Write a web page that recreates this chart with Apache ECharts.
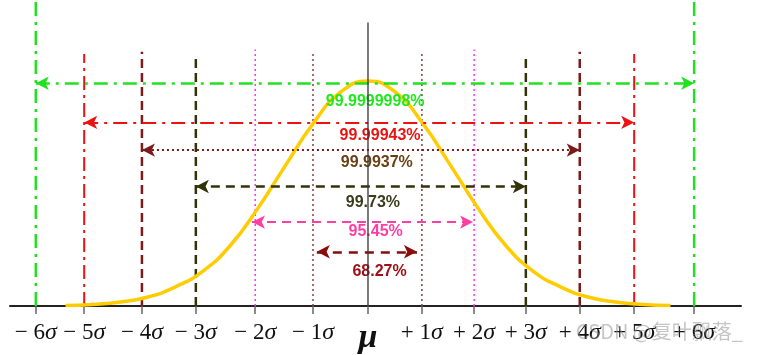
<!DOCTYPE html>
<html><head><meta charset="utf-8">
<script src="https://cdn.jsdelivr.net/npm/echarts@6/dist/echarts.min.js"></script>
<style>html,body{margin:0;padding:0;background:#fff}#c{width:758px;height:355px}</style>
</head><body><div id="c"></div>
<script>
// Sigma line positions on the axis, from -6σ to +6σ
const sigmaPos = [-6.04, -5.16, -4.11, -3.13, -2.05, -1.0, 0, 0.98, 1.93, 2.87, 3.85, 4.84, 5.93];
const tickLabels = ['− 6σ', '− 5σ', '− 4σ', '− 3σ', '− 2σ', '− 1σ', 'μ', '+ 1σ', '+ 2σ', '+ 3σ', '+ 4σ', '+ 5σ', '+ 6σ'];
// vertical line tops for |k| = 1..6, and centre line
const lineTops = [1.13, 1.14, 1.12, 1.13, 1.12, 1.36];
const centreTop = 1.26;
// normal curve (read)
const curveX = [-5.5, -5, -4.5, -4, -3.5, -3, -2.5, -2, -1.5, -1, -0.5, 0, 0.5, 1, 1.5, 2, 2.5, 3, 3.5, 4, 4.5, 5, 5.5];
const curveY = [0.002, 0.007, 0.018, 0.04, 0.085, 0.155, 0.27, 0.435, 0.625, 0.81, 0.95, 1.0, 0.95, 0.81, 0.625, 0.435, 0.27, 0.155, 0.085, 0.04, 0.018, 0.007, 0.002];
// range arrows: 6σ,5σ,4σ,3σ,2σ,1σ
const pctLabels = ['99.9999998%', '99.99943%', '99.9937%', '99.73%', '95.45%', '68.27%'];
const arrowLevels = [0.99, 0.816, 0.693, 0.531, 0.373, 0.241];
const arrowLeft = [-6.04, -5.16, -4.11, -3.13, -2.11, -0.93];
const arrowRight = [5.93, 4.84, 3.85, 2.87, 1.91, 0.89];
const labelLevels = [0.908, 0.759, 0.636, 0.461, 0.329, 0.152];
const labelXs = [0.13, 0.22, 0.16, 0.09, 0.14, 0.21];

// styles for |k| = 1..6 vertical lines
const vStyles = {
  1: {color: '#8b3a3a', type: [2, 3], width: 1.5},
  2: {color: '#ff33ff', type: [2, 3], width: 1.5},
  3: {color: '#33330a', type: [9, 5], width: 2.5},
  4: {color: '#7f1a1a', type: [9, 5], width: 2.5},
  5: {color: '#ee1111', type: [14, 5, 3, 5], width: 2},
  6: {color: '#22e022', type: [14, 6, 3, 6], width: 2.5}
};
const arrowStyles = [
  {color: '#22e022', type: [14, 6, 3, 6], width: 2.5},
  {color: '#ee1111', type: [14, 6, 3, 6], width: 2},
  {color: '#7a1a1a', type: [2, 3], width: 1.8},
  {color: '#33330a', type: [9, 6], width: 2.5},
  {color: '#ff3ea5', type: [9, 6], width: 2},
  {color: '#8b0a0a', type: [9, 7], width: 2.5}
];
const labelColors = ['#1ee81e', '#ee1111', '#6a3f12', '#3c3c1c', '#ff3ea5', '#a01018'];

const series = [];
sigmaPos.forEach((x, i) => {
  const k = Math.abs(i - 6);
  if (k === 0) return;
  const st = vStyles[k];
  series.push({
    type: 'line', symbol: 'none', silent: true,
    data: [[x, 0], [x, lineTops[k - 1]]],
    lineStyle: {color: st.color, type: st.type, width: st.width}, z: 2
  });
});
series.push({
  type: 'line', data: [], silent: true, z: 3,
  markLine: {
    silent: true, symbol: ['arrow', 'arrow'], symbolSize: [10, 13], label: {show: false},
    data: pctLabels.map((p, i) => [
      {coord: [arrowLeft[i], arrowLevels[i]], lineStyle: arrowStyles[i]},
      {coord: [arrowRight[i], arrowLevels[i]]}
    ])
  }
});
series.push({
  type: 'line', smooth: true, symbol: 'none', silent: true,
  data: curveX.map((x, i) => [x, curveY[i]]),
  lineStyle: {color: '#ffcc00', width: 3.5}, z: 4
});
series.push({
  type: 'scatter', symbolSize: 0, silent: true, z: 5,
  itemStyle: {opacity: 1},
  data: pctLabels.map((p, i) => ({
    value: [labelXs[i], labelLevels[i]], name: p,
    label: {color: labelColors[i]}
  })),
  label: {
    show: true, position: 'inside', formatter: p => p.name, opacity: 1,
    textBorderWidth: 0, textShadowBlur: 0,
    fontFamily: 'Liberation Sans, Arial, sans-serif', fontWeight: 'bold', fontSize: 16
  }
});
series.push({
  type: 'line', symbol: 'none', silent: true,
  data: [[sigmaPos[6], 0], [sigmaPos[6], centreTop]],
  lineStyle: {color: '#333', width: 1.3}, z: 10
});

const chart = echarts.init(document.getElementById('c'), null, {renderer: 'canvas'});
chart.setOption({
  animation: false,
  backgroundColor: '#fff',
  grid: {left: 10, right: 17, top: 0, bottom: 45},
  xAxis: {
    type: 'value', min: -6.509, max: 6.782,
    splitLine: {show: false},
    axisLine: {lineStyle: {color: '#222', width: 2}},
    axisTick: {show: true, length: 8, customValues: sigmaPos, lineStyle: {color: '#666', width: 1.5}},
    axisLabel: {
      customValues: sigmaPos, margin: 15,
      formatter: v => {
        const i = sigmaPos.indexOf(v);
        const t = i >= 0 ? tickLabels[i] : '';
        if (t === 'μ') return '{mu|μ}';
        return '{n|' + t.replace('σ', '}{s|σ}');
      },
      rich: {
        n: {fontFamily: 'Liberation Serif, Times New Roman, serif', fontSize: 23, color: '#111'},
        s: {fontFamily: 'Liberation Serif, Times New Roman, serif', fontSize: 24, fontStyle: 'italic', color: '#111'},
        mu: {fontFamily: 'Liberation Serif, Times New Roman, serif', fontSize: 34, fontStyle: 'italic', fontWeight: 'bold', color: '#111'}
      }
    }
  },
  yAxis: {type: 'value', min: 0, max: 1.36, show: false},
  graphic: [{
    type: 'text', left: 576, top: 321, z: 100,
    style: {text: 'CSDN @复叶飘落_', fill: 'rgba(140,140,140,0.5)', font: '20px "Noto Sans CJK SC", sans-serif'}
  }],
  series: series
});
</script></body></html>
